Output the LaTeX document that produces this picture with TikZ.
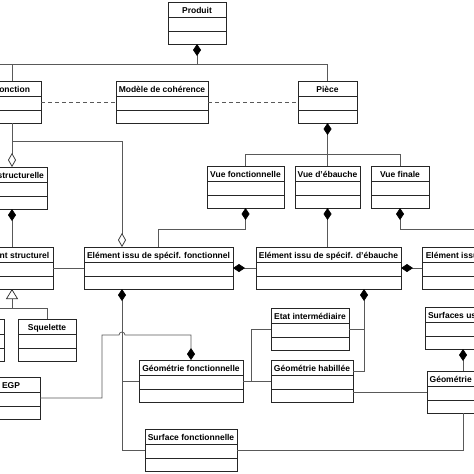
\documentclass[tikz,border=0pt]{standalone}
\usepackage{fontspec}
\setmainfont{Liberation Sans}
\usetikzlibrary{arrows.meta,calc}
\tikzset{
  clsbox/.style={draw=black!85, line width=0.9pt, inner sep=0pt, outer sep=0pt, fill=white, minimum height=42pt},
  clsline/.style={draw=black!85, line width=0.9pt},
  clstitle/.style={font=\bfseries\fontsize{8.5}{10}\selectfont, inner sep=0pt, text=black},
  conn/.style={draw=black!65, line width=0.75pt},
  assocdash/.style={conn, dash pattern=on 4pt off 3pt},
  compstart/.style={{Diamond[length=12pt,width=8pt,color=black]}-},
  compend/.style={-{Diamond[length=12pt,width=8pt,color=black]}},
  aggend/.style={-{Diamond[open,length=14pt,width=8pt,color=black!80]}},
  genstart/.style={{Triangle[open,length=10pt,width=12pt,color=black!80]}-}
}
\newcommand\umlclass[5]{%
  \pgfmathsetmacro\ucw{#4-(#2)}%
  \pgfmathsetmacro\ucx{(#4+(#2))/2}%
  \node[clsbox, minimum width=\ucw pt, anchor=north] (#1) at (\ucx,#3) {};
  \draw[clsline] ([yshift=-15.5pt]#1.north west) -- ([yshift=-15.5pt]#1.north east);
  \draw[clsline] ([yshift=-29pt]#1.north west) -- ([yshift=-29pt]#1.north east);
  \node[clstitle, anchor=base] (#1-t) at ([yshift=-11pt]#1.north) {#5};
}
\begin{document}
\begin{tikzpicture}[x=1pt,y=-1pt]
\useasboundingbox (0,0) rectangle (474,474);
% classes
\umlclass{produit}{168}{2}{226}{Produit}
\umlclass{fonction}{-17}{81}{41}{Fonction}
\umlclass{modele}{116}{81}{208}{Modèle de cohérence}
\umlclass{piece}{298}{81}{357}{Pièce}
\umlclass{vuestruct}{-23}{167}{47}{Vue structurelle}
\umlclass{vuefonc}{207}{166}{284}{Vue fonctionnelle}
\umlclass{vueebau}{295}{166}{360}{Vue d{\char"27}ébauche}
\umlclass{vuefin}{371}{166}{429}{Vue finale}
\umlclass{elstruct}{-29}{247}{53}{Elément structurel}
\umlclass{elfonc}{84}{247}{233}{Elément issu de spécif. fonctionnel}
\umlclass{elebau}{256}{247}{401}{Elément issu de spécif. d{\char"27}ébauche}
\umlclass{elfin}{422}{247}{549}{Elément issu de spécif. finale}
\umlclass{leftbox}{-54}{319}{4}{}
\umlclass{squel}{18}{319}{76}{Squelette}
\umlclass{egp}{-18}{377}{40}{EGP}
\umlclass{etat}{271}{308}{349}{Etat intermédiaire}
\umlclass{geofonc}{139}{360}{243}{Géométrie fonctionnelle}
\umlclass{geohab}{271}{360}{353}{Géométrie habillée}
\umlclass{surfus}{425}{307}{501}{Surfaces usinées}
\umlclass{geofin}{427}{371}{499}{Géométrie finale}
\umlclass{surfonc}{145}{429}{237}{Surface fonctionnelle}
% helper coordinates
\coordinate (busw) at (-40,64);
\coordinate (j141) at (0,141);
\coordinate (g308) at (0,308);
\coordinate (b154) at (0,154);
\coordinate (b229) at (0,229);
\coordinate (h1) at (102,335);
\coordinate (x251) at (251,0);
\coordinate (aggf) at ($(elfonc.north west)+(38,0)$);
\coordinate (cf) at ($(elfonc.south west)+(38,0)$);
\coordinate (ce) at ($(elebau.south west)+(108,0)$);
\coordinate (gh1) at ($(geohab.north east)+(0,11)$);
\coordinate (gh2) at ($(geohab.south east)+(0,-10)$);
% top bus
\draw[conn] (busw) -- (piece.north |- busw) -- (piece.north);
\draw[conn] (fonction.north) -- (fonction.north |- busw);
\draw[conn,compstart] (produit.south) -- (produit.south |- busw);
% dashed associations
\draw[assocdash] (fonction.east) -- (modele.west);
\draw[assocdash] (modele.east) -- (piece.west);
% fonction aggregations
\draw[conn,aggend] (fonction.south) -- (fonction.south |- vuestruct.north);
\draw[conn,aggend] (fonction.south |- j141) -| (aggf);
% structure
\draw[conn,compstart] (vuestruct.south) -- (vuestruct.south |- elstruct.north);
\draw[conn] (elstruct.east) -- (elfonc.west);
\draw[conn,genstart] (elstruct.south) -- (elstruct.south |- g308);
\draw[conn] (leftbox.north |- g308) -- (squel.north |- g308);
\draw[conn] (leftbox.north |- g308) -- (leftbox.north);
\draw[conn] (squel.north |- g308) -- (squel.north);
% piece views
\draw[conn,compstart] (piece.south) -- (piece.south |- b154);
\draw[conn] (vuefonc.north |- b154) -- (vuefin.north |- b154);
\draw[conn] (vuefonc.north |- b154) -- (vuefonc.north);
\draw[conn] (vueebau.north |- b154) -- (vueebau.north);
\draw[conn] (vuefin.north |- b154) -- (vuefin.north);
\draw[conn,compstart] (vuefonc.south) -- (vuefonc.south |- b229) -| (elfonc.north);
\draw[conn,compstart] (vueebau.south) -- (vueebau.south |- elebau.north);
\draw[conn,compstart] (vuefin.south) -- (vuefin.south |- b229) -| (elfin.north);
\draw[conn,compstart] (elfonc.east) -- (elebau.west);
\draw[conn,compstart] (elebau.east) -- (elfin.west);
% functional element
\draw[conn,compstart] (cf) -- (cf |- surfonc.west) -- (surfonc.west);
\draw[conn] (cf |- geofonc.west) -- (geofonc.west);
\draw[conn,compend] (egp.east) -| (h1) -- ($(cf |- h1)+(-3,0)$) arc[start angle=180,end angle=360,radius=3] -- (geofonc.north |- h1) -- (geofonc.north);
% ebauche element
\draw[conn,compstart] (ce) -- (ce |- gh1) -- (gh1);
\draw[conn] (etat.east) -- (etat.east -| ce);
\draw[conn] (geofonc.east) -- (geohab.west);
\draw[conn] (geofonc.east -| x251) |- (etat.west);
\draw[conn] (gh2) -- (gh2 -| geofin.west);
% final
\draw[conn,compstart] (surfus.south) -- (geofin.north);
\draw[conn] (geofin.south) |- (surfonc.east);
\end{tikzpicture}
\end{document}
